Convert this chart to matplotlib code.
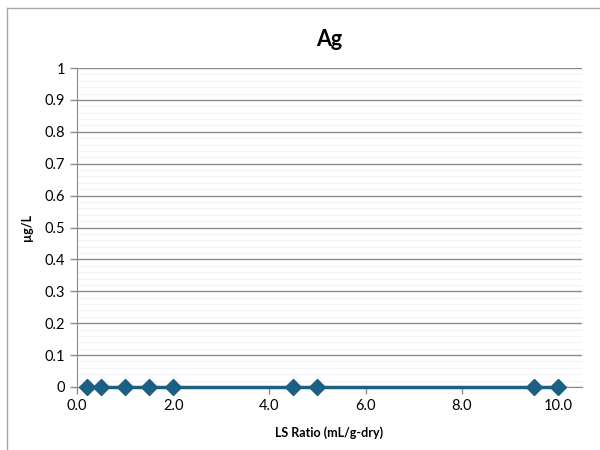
import matplotlib
matplotlib.use("Agg")
import matplotlib.pyplot as plt
from matplotlib.lines import Line2D
import numpy as np

plt.rcParams['font.family'] = ['Lato', 'DejaVu Sans']

ls_ratio = [0.2, 0.5, 1.0, 1.5, 2.0, 4.5, 5.0, 9.5, 10.0]
ag_values = [0, 0, 0, 0, 0, 0, 0, 0, 0]
x_ticks = [0, 2, 4, 6, 8, 10]
y_ticks = [0, 0.1, 0.2, 0.3, 0.4, 0.5, 0.6, 0.7, 0.8, 0.9, 1.0]

fig = plt.figure(figsize=(6, 4.5), dpi=100)
ax = fig.add_axes([77/600, 63/450, (582-77)/600, (387-68)/450])

# figure border (partially visible)
fig.add_artist(Line2D([7/600, 7/600], [0, 1-8/450], color='#A6A6A6', lw=1, transform=fig.transFigure))
fig.add_artist(Line2D([7/600, 1], [1-8/450, 1-8/450], color='#A6A6A6', lw=1, transform=fig.transFigure))

ax.set_xlim(0, 10.5)
ax.set_ylim(0, 1)

# minor grid
ax.set_yticks(np.round(np.arange(0, 1.0001, 0.02), 2), minor=True)
ax.yaxis.grid(True, which='minor', color='#F1F3F6', lw=0.8)
ax.yaxis.grid(True, which='major', color='#8C8C8C', lw=1.0)
ax.set_axisbelow(True)
ax.tick_params(axis='y', which='minor', length=0)

ax.plot(ls_ratio, ag_values, color='#1B5F82', lw=2.5, marker='D', markersize=8.5, zorder=5, clip_on=False)

ax.set_xticks(x_ticks)
ax.set_xticklabels([f"{v:.1f}" for v in x_ticks], fontsize=10.5)
ax.set_yticks(y_ticks)
ax.set_yticklabels(['0', '0.1', '0.2', '0.3', '0.4', '0.5', '0.6', '0.7', '0.8', '0.9', '1'], fontsize=10.5)
ax.tick_params(axis='both', which='major', direction='out', length=5, color='#8C8C8C', width=1)

for s in ['top', 'right']:
    ax.spines[s].set_visible(False)
for s in ['left', 'bottom']:
    ax.spines[s].set_color('#8C8C8C')

ax.set_title('Ag', fontsize=15.5, fontweight='bold', pad=16)
ax.set_xlabel('LS Ratio (mL/g-dry)', fontsize=9, fontweight='bold', labelpad=10)
ax.set_ylabel('µg/L', fontsize=9, fontweight='bold', labelpad=8)

fig.savefig('out.png', dpi=100, facecolor='white')
